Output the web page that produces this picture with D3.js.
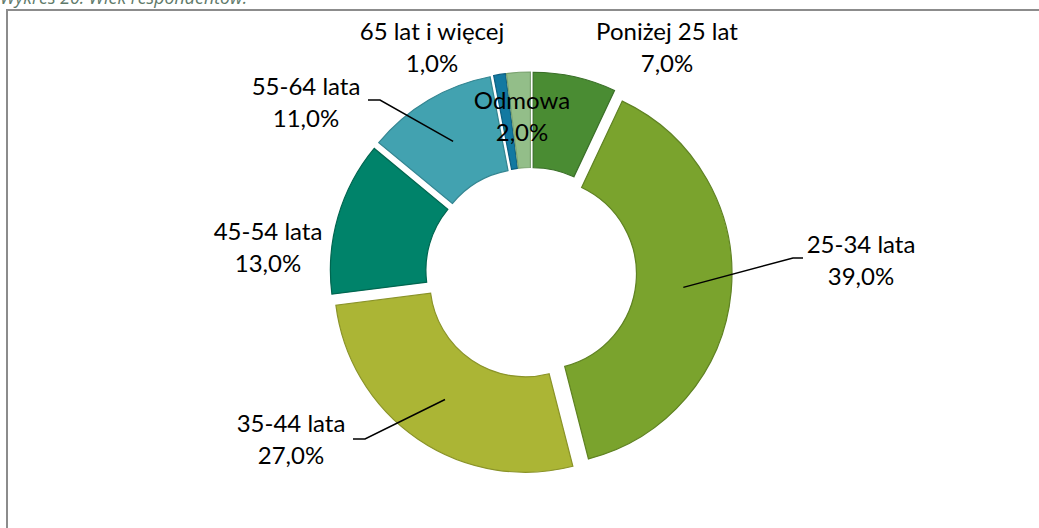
<!DOCTYPE html>
<html>
<head>
  <meta charset=utf-8>
  <title>Wiek respondentów</title>
  <script src="https://cdn.jsdelivr.net/npm/d3@7"></script>
  <style>
    body { margin: 0; background: #fff; }
    svg { display: block; }
  </style>
</head>
<body>
<div id='chart'></div>
<script>

// data
var categories = ['Poniżej 25 lat', '25-34 lata', '35-44 lata', '45-54 lata', '55-64 lata', '65 lat i więcej', 'Odmowa'];
var values = [7, 39, 27, 13, 11, 1, 2];
var colors = ['#4a8c33', '#7aa32d', '#abb535', '#00836a', '#42a2b0', '#1279a1', '#93be89'];
var strokes = ['#3a6f28', '#5f8222', '#8a9328', '#006650', '#338591', '#0d5f80', '#7aa26f'];

// label placement (centre x, first line y) and whether a leader line is drawn
var labelPos = [[667, 40], [861, 253], [291, 432], [268, 240], [306, 95], [432, 40], [522, 109]];
var leader = [false, true, true, false, true, false, false];

var width = 1039, height = 528;
var cx = 531, cy = 273, outerR = 191, innerR = 95.5, explode = 10;

var svg = d3.select('#chart').append('svg')
  .attr('width', width)
  .attr('height', height);

// title, mostly cut off at the top (as in the source)
svg.append('text')
  .attr('x', 0)
  .attr('y', 3.5)
  .attr('font-family', 'Open Sans')
  .attr('font-style', 'italic')
  .attr('font-size', 17.8)
  .attr('fill', '#5f7a6a')
  .text('Wykres 20. Wiek respondentów.');

// chart frame
svg.append('rect')
  .attr('x', 7).attr('y', 10)
  .attr('width', 1100).attr('height', 600)
  .attr('fill', 'none')
  .attr('stroke', '#8c8c8c')
  .attr('stroke-width', 2);

var pie = d3.pie().sort(null).value(function (d) { return d; });
var arcs = pie(values);

var arc = d3.arc().innerRadius(innerR).outerRadius(outerR);
var mid = d3.arc().innerRadius(143).outerRadius(143);

// every slice is pulled out along its middle angle
function shift(d) {
  var a = (d.startAngle + d.endAngle) / 2;
  return [cx + explode * Math.sin(a), cy - explode * Math.cos(a)];
}

svg.append('g')
  .selectAll('path')
  .data(arcs)
  .enter().append('path')
    .attr('transform', function (d) { return 'translate(' + shift(d) + ')'; })
    .attr('d', arc)
    .attr('fill', function (d, i) { return colors[i]; })
    .attr('stroke', function (d, i) { return strokes[i]; })
    .attr('stroke-width', 1.2);

// leader lines: short horizontal stub by the label, then to the slice centroid
arcs.forEach(function (d, i) {
  if (!leader[i]) return;
  var s = shift(d);
  var c = mid.centroid(d);
  var end = [s[0] + c[0], s[1] + c[1]];
  var lp = labelPos[i];
  var yLine = lp[1] + 5;
  var x0, x1;
  if (lp[0] < end[0]) {
    x0 = lp[0] + 62; x1 = x0 + 12;
  } else {
    x0 = lp[0] - 58; x1 = x0 - 10;
  }
  if (i === 2) yLine = lp[1] + 7;
  svg.append('polyline')
    .attr('points', [[x0, yLine], [x1, yLine], end].join(' '))
    .attr('fill', 'none')
    .attr('stroke', '#000')
    .attr('stroke-width', 1.5);
});

// labels
var fmt = function (v) { return v.toFixed(1).replace('.', ',') + '%'; };
arcs.forEach(function (d, i) {
  var t = svg.append('text')
    .attr('text-anchor', 'middle')
    .attr('font-family', 'Lato')
    .attr('font-size', 24)
    .attr('fill', '#000');
  t.append('tspan').attr('x', labelPos[i][0]).attr('y', labelPos[i][1]).text(categories[i]);
  t.append('tspan').attr('x', labelPos[i][0]).attr('y', labelPos[i][1] + 32).text(fmt(values[i]));
});

</script>
</body>
</html>
